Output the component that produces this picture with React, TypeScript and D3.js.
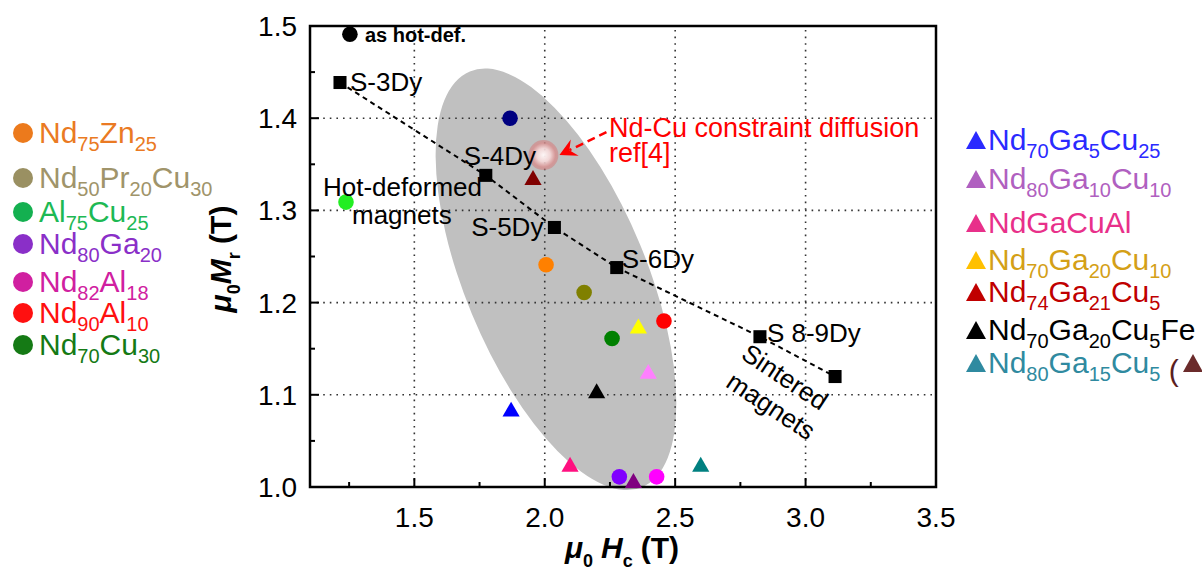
import React from "react";
import * as d3 from "d3";

// ---------- data ----------
const xDomain = [1.1, 3.5];
const yDomain = [1.0, 1.5];
const xMajorTicks = [1.5, 2.0, 2.5, 3.0, 3.5];
const xMinorTicks = [1.25, 1.75, 2.25, 2.75, 3.25];
const yMajorTicks = [1.0, 1.1, 1.2, 1.3, 1.4, 1.5];
const yMinorTicks = [1.05, 1.15, 1.25, 1.35, 1.45];
const xGrid = [1.5, 2.0, 2.5, 3.0];
const yGrid = [1.1, 1.2, 1.3, 1.4];

// circle points
const circleX = [1.253, 1.238, 1.867, 2.005, 2.151, 2.258, 2.457, 2.286, 2.429];
const circleY = [1.491, 1.309, 1.400, 1.241, 1.211, 1.161, 1.180, 1.011, 1.011];
const circleColors = ["#000000", "#22ee22", "#000080", "#ff8000", "#808000", "#008000", "#ff0000", "#8000ff", "#ff00ff"];

// triangle points
const triX = [1.955, 2.359, 2.397, 2.199, 1.871, 2.097, 2.340, 2.598];
const triY = [1.333, 1.172, 1.1227, 1.1017, 1.0818, 1.022, 1.0043, 1.022];
const triColors = ["#800000", "#ffff00", "#ff80ff", "#000000", "#0000ff", "#ff1080", "#800080", "#008080"];

// sintered magnets (squares + dashed line)
const sinteredX = [1.215, 1.774, 2.037, 2.276, 2.825, 3.113];
const sinteredY = [1.4387, 1.338, 1.2815, 1.238, 1.163, 1.1198];
const sinteredLabels = ["S-3Dy", "S-4Dy", "S-5Dy", "S-6Dy", "S 8-9Dy", ""];

// Nd-Cu constraint diffusion point
const ndCuX = 1.995;
const ndCuY = 1.36;

// ellipse centre (data units)
const ellipseCX = 2.043;
const ellipseCY = 1.2253;

// legends
const leftLegendLabels = ["Nd75Zn25", "Nd50Pr20Cu30", "Al75Cu25", "Nd80Ga20", "Nd82Al18", "Nd90Al10", "Nd70Cu30"];
const leftLegendMarker = ["#ec7a1c", "#9a9062", "#14b050", "#8a2fc8", "#d020a0", "#ff1010", "#157a15"];
const leftLegendText = ["#ea7a23", "#a0946a", "#1db954", "#8a2fc8", "#d020a0", "#ff1010", "#157a15"];
const leftLegendBaseline = [143, 188, 222, 254, 292, 323, 355];

const rightLegendLabels = ["Nd70Ga5Cu25", "Nd80Ga10Cu10", "NdGaCuAl", "Nd70Ga20Cu10", "Nd74Ga21Cu5", "Nd70Ga20Cu5Fe", "Nd80Ga15Cu5"];
const rightLegendMarker = ["#2a2aff", "#b060c0", "#e8308a", "#ffc000", "#c00000", "#000000", "#2f8aa0"];
const rightLegendText = ["#2a2aff", "#b060c0", "#e8308a", "#d4a017", "#c00000", "#000000", "#2f8aa0"];
const rightLegendBaseline = [150, 189, 233, 270, 302, 340, 373];

const FONT = "'Liberation Sans', Arial, Helvetica, sans-serif";

function Formula({ label, size, sub }: { label: string; size: number; sub: number }) {
  const parts = label.match(/(\d+|[^\d]+)/g) || [];
  const out: any[] = [];
  let shifted = false;
  parts.forEach((p, i) => {
    const isNum = /^\d+$/.test(p);
    if (isNum) {
      out.push(
        <tspan key={i} fontSize={sub} dy={shifted ? 0 : 8}>
          {p}
        </tspan>
      );
      shifted = true;
    } else {
      out.push(
        <tspan key={i} fontSize={size} dy={shifted ? -8 : 0}>
          {p}
        </tspan>
      );
      shifted = false;
    }
  });
  return <>{out}</>;
}

export default function App() {
  const x = d3.scaleLinear().domain(xDomain).range([310, 936]);
  const y = d3.scaleLinear().domain(yDomain).range([487, 26]);
  const [x0, x1] = x.range();
  const [y0, y1] = y.range();

  const triPath = d3.symbol().type(d3.symbolTriangle).size(128)()!;
  const sqPath = d3.symbol().type(d3.symbolSquare).size(170)()!;
  const line = d3
    .line<number>()
    .x((_, i) => x(sinteredX[i]))
    .y((_, i) => y(sinteredY[i]));

  // arrow geometry (anchored to the Nd-Cu marker)
  const tipX = x(ndCuX) + 16;
  const tipY = y(ndCuY);
  const startX = tipX + 47;
  const startY = tipY - 23;
  const len = Math.hypot(startX - tipX, startY - tipY);
  const ux = (startX - tipX) / len;
  const uy = (startY - tipY) / len;
  const px = -uy;
  const py = ux;
  const headL = 17;
  const headW = 9;
  const arrowHead = [
    [tipX, tipY],
    [tipX + ux * headL + px * headW, tipY + uy * headL + py * headW],
    [tipX + ux * 11, tipY + uy * 11],
    [tipX + ux * headL - px * headW, tipY + uy * headL - py * headW],
  ];

  const labelOffsets = [
    [10, 8, "start"],
    [-22, -10, "start"],
    [-11, 9, "end"],
    [5, 0, "start"],
    [7, 5, "start"],
    [0, 0, "start"],
  ] as const;

  return (
    <svg
      width={1202}
      height={574}
      style={{ position: "absolute", left: 0, top: 0, overflow: "hidden", background: "#fff" }}
      fontFamily={FONT}
    >
      <defs>
        <radialGradient id="pinkGlow" cx="50%" cy="50%" r="50%">
          <stop offset="0%" stopColor="#fff8f8" stopOpacity={0.97} />
          <stop offset="45%" stopColor="#f6d8d8" stopOpacity={0.9} />
          <stop offset="80%" stopColor="#d88e8e" stopOpacity={0.82} />
          <stop offset="100%" stopColor="#d08080" stopOpacity={0.55} />
        </radialGradient>
      </defs>
      <rect x={0} y={0} width={1202} height={574} fill="#fff" />

      {/* ellipse */}
      <ellipse
        cx={x(ellipseCX)}
        cy={y(ellipseCY)}
        rx={91}
        ry={225}
        fill="#c0c0c0"
        transform={`rotate(-22.5 ${x(ellipseCX)} ${y(ellipseCY)})`}
      />

      {/* grid */}
      {xGrid.map((v) => (
        <line key={"gx" + v} x1={x(v)} x2={x(v)} y1={y0} y2={y1} stroke="#333" strokeWidth={1.6} strokeDasharray="1.6,5" />
      ))}
      {yGrid.map((v) => (
        <line key={"gy" + v} x1={x0} x2={x1} y1={y(v)} y2={y(v)} stroke="#333" strokeWidth={1.6} strokeDasharray="1.6,5" />
      ))}

      {/* frame */}
      <rect x={x0} y={y1} width={x1 - x0} height={y0 - y1} fill="none" stroke="#000" strokeWidth={2.5} />

      {/* ticks */}
      {xMajorTicks.map((v) => (
        <line key={"xt" + v} x1={x(v)} x2={x(v)} y1={y0} y2={y0 - 9} stroke="#000" strokeWidth={2} />
      ))}
      {xMinorTicks.map((v) => (
        <line key={"xm" + v} x1={x(v)} x2={x(v)} y1={y0} y2={y0 - 5} stroke="#000" strokeWidth={2} />
      ))}
      {yMajorTicks.map((v) => (
        <line key={"yt" + v} x1={x0} x2={x0 + 9} y1={y(v)} y2={y(v)} stroke="#000" strokeWidth={2} />
      ))}
      {yMinorTicks.map((v) => (
        <line key={"ym" + v} x1={x0} x2={x0 + 5} y1={y(v)} y2={y(v)} stroke="#000" strokeWidth={2} />
      ))}

      {/* tick labels */}
      {xMajorTicks.map((v) => (
        <text key={"xl" + v} x={x(v)} y={527} fontSize={28} textAnchor="middle" fill="#000">
          {v.toFixed(1)}
        </text>
      ))}
      {yMajorTicks.map((v) => (
        <text key={"yl" + v} x={297} y={y(v) + 10} fontSize={28} textAnchor="end" fill="#000">
          {v.toFixed(1)}
        </text>
      ))}

      {/* axis titles */}
      <text x={622} y={558} fontSize={30} fontWeight="bold" textAnchor="middle" fill="#000">
        <tspan fontStyle="italic">μ</tspan>
        <tspan fontSize={18} dy={9}>0</tspan>
        <tspan dy={-9} dx={8} fontStyle="italic">H</tspan>
        <tspan fontSize={18} dy={9}>c</tspan>
        <tspan dy={-9} dx={8}>(T)</tspan>
      </text>
      <text
        transform={`translate(231, 259) rotate(-90)`}
        fontSize={30}
        fontWeight="bold"
        textAnchor="middle"
        fill="#000"
      >
        <tspan fontStyle="italic">μ</tspan>
        <tspan fontSize={18} dy={9}>0</tspan>
        <tspan dy={-9} fontStyle="italic">M</tspan>
        <tspan fontSize={18} dy={9}>r</tspan>
        <tspan dy={-9}>{" (T)"}</tspan>
      </text>

      {/* sintered dashed line */}
      <path d={line(sinteredX) || ""} fill="none" stroke="#000" strokeWidth={2} strokeDasharray="5,4" />

      {/* Nd-Cu marker */}
      <circle cx={x(ndCuX)} cy={y(ndCuY)} r={15} fill="url(#pinkGlow)" />

      {/* circles */}
      {circleX.map((v, i) => (
        <circle key={"c" + i} cx={x(v)} cy={y(circleY[i])} r={7.8} fill={circleColors[i]} />
      ))}
      {/* triangles */}
      {triX.map((v, i) => (
        <path key={"t" + i} d={triPath} transform={`translate(${x(v)},${y(triY[i])})`} fill={triColors[i]} />
      ))}
      {/* squares */}
      {sinteredX.map((v, i) => (
        <path key={"s" + i} d={sqPath} transform={`translate(${x(v)},${y(sinteredY[i])})`} fill="#000" />
      ))}
      {sinteredLabels.map((l, i) =>
        l ? (
          <text
            key={"sl" + i}
            x={x(sinteredX[i]) + labelOffsets[i][0]}
            y={y(sinteredY[i]) + labelOffsets[i][1]}
            fontSize={26}
            textAnchor={labelOffsets[i][2]}
            fill="#000"
          >
            {l}
          </text>
        ) : null
      )}

      {/* annotations */}
      <text x={x(circleX[0]) + 15} y={y(circleY[0]) + 8} fontSize={20} fontWeight="bold" fill="#000">
        as hot-def.
      </text>
      <text x={323} y={196} fontSize={26} fill="#000">
        Hot-deformed
      </text>
      <text x={352} y={224} fontSize={26} fill="#000">
        magnets
      </text>
      <text transform="translate(785,377) rotate(33.5)" fontSize={26} textAnchor="middle" dominantBaseline="central" fill="#000">
        Sintered
      </text>
      <text transform="translate(771,406) rotate(33.5)" fontSize={26} textAnchor="middle" dominantBaseline="central" fill="#000">
        magnets
      </text>

      {/* red arrow + text */}
      <line x1={startX} y1={startY} x2={tipX + ux * 11} y2={tipY + uy * 11} stroke="#ff0000" strokeWidth={2.5} strokeDasharray="8,5" />
      <polygon points={arrowHead.map((p) => p.join(",")).join(" ")} fill="#ff0000" />
      <text x={609} y={137} fontSize={27} fill="#ff0000">
        Nd-Cu constraint diffusion
      </text>
      <text x={609} y={162} fontSize={27} fill="#ff0000">
        ref[4]
      </text>

      {/* left legend */}
      {leftLegendLabels.map((l, i) => (
        <g key={"ll" + i}>
          <circle cx={23} cy={leftLegendBaseline[i] - 10} r={10} fill={leftLegendMarker[i]} />
          <text x={39} y={leftLegendBaseline[i]} fill={leftLegendText[i]}>
            <Formula label={l} size={30} sub={20} />
          </text>
        </g>
      ))}

      {/* right legend */}
      {rightLegendLabels.map((l, i) => (
        <g key={"rl" + i}>
          <polygon
            points={`966,${rightLegendBaseline[i] - 1} 986,${rightLegendBaseline[i] - 1} 976,${rightLegendBaseline[i] - 19}`}
            fill={rightLegendMarker[i]}
          />
          <text x={988} y={rightLegendBaseline[i]} fill={rightLegendText[i]}>
            <Formula label={l} size={30} sub={20} />
            {i === rightLegendLabels.length - 1 ? (
              <tspan fontSize={30} fill="#5a2020">{" ("}</tspan>
            ) : null}
          </text>
          {i === rightLegendLabels.length - 1 ? (
            <polygon
              points={`1183,${rightLegendBaseline[i] - 1} 1203,${rightLegendBaseline[i] - 1} 1193,${rightLegendBaseline[i] - 19}`}
              fill="#6b2b2b"
            />
          ) : null}
        </g>
      ))}
    </svg>
  );
}
